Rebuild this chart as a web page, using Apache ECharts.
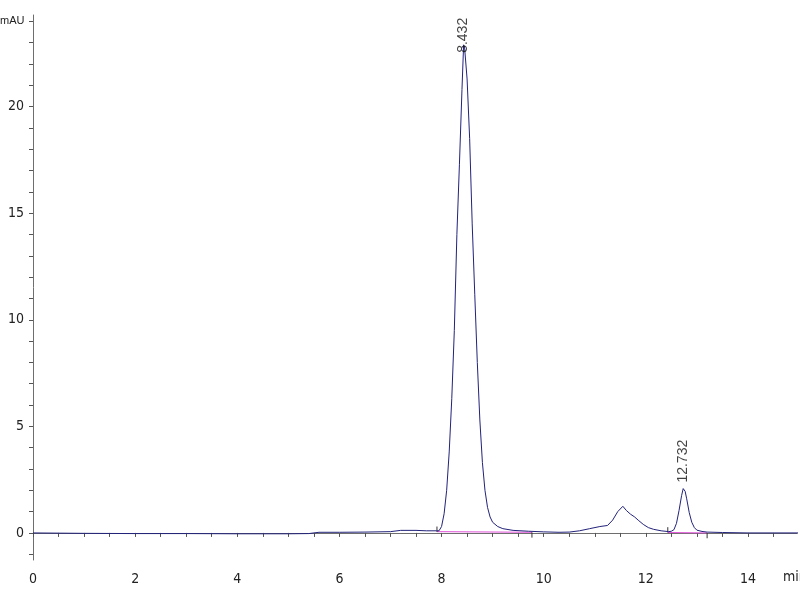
<!DOCTYPE html>
<html>
<head>
<meta charset="utf-8">
<script src="https://cdn.jsdelivr.net/npm/echarts@6/dist/echarts.min.js"></script>
<style>html,body{margin:0;padding:0;background:#fff}#c{width:800px;height:600px}</style>
</head>
<body>
<div id="c"></div>
<script>
// Retention time (min) and signal (mAU)
const times = [0, 1, 2, 3, 4, 5, 5.4, 5.6, 6.0, 6.5, 7.0, 7.2, 7.5, 7.7, 7.9,
  7.95, 8.0, 8.05, 8.1, 8.15, 8.2, 8.25, 8.3, 8.35, 8.4, 8.432, 8.45, 8.5, 8.55, 8.6, 8.65, 8.7, 8.75, 8.8, 8.85, 8.9, 8.95, 9.0, 9.1, 9.2, 9.4, 9.7, 10.0,
  10.3, 10.5, 10.7, 10.9, 11.1, 11.25, 11.35, 11.45, 11.55, 11.62, 11.7, 11.78, 11.85, 11.95, 12.05, 12.15, 12.3, 12.45,
  12.5, 12.55, 12.6, 12.65, 12.7, 12.732, 12.77, 12.8, 12.85, 12.9, 12.95, 13.0, 13.1, 13.2, 13.5, 14.0, 15.0];
const signal = [0.0, -0.02, -0.03, -0.03, -0.04, -0.04, -0.03, 0.03, 0.03, 0.04, 0.06, 0.12, 0.12, 0.1, 0.1,
  0.1, 0.3, 0.9, 2.0, 3.8, 6.3, 9.5, 14.0, 17.3, 20.8, 22.9, 22.8, 21.3, 18.5, 14.5, 11.2, 8.0, 5.3, 3.3, 2.0, 1.2, 0.75, 0.5, 0.3, 0.2, 0.12, 0.08, 0.05,
  0.03, 0.04, 0.1, 0.2, 0.3, 0.35, 0.6, 1.0, 1.25, 1.05, 0.88, 0.75, 0.6, 0.4, 0.25, 0.17, 0.1, 0.06,
  0.08, 0.15, 0.45, 1.05, 1.75, 2.08, 1.95, 1.6, 0.95, 0.5, 0.25, 0.13, 0.07, 0.04, 0.02, 0.0, 0.0];

// Integration baselines (start/end time, start/end signal)
const baseline1 = [[7.91, 0.06], [9.77, 0.03]];
const baseline2 = [[12.43, 0.02], [13.2, 0.0]];
// Peak start/end tick marks
const markTicks = [
  [[7.91, 0.05], [7.91, 0.3]],
  [[9.77, 0.03], [9.77, -0.22]],
  [[12.43, 0.02], [12.43, 0.27]],
  [[13.2, 0.0], [13.2, -0.25]]
];
// Peak labels
const peakTimes = [8.432, 12.732];
const peakHeights = [22.9, 2.08];
const peakLabels = ['8.432', '12.732'];

const yTickValues = [];
for (let v = -1; v <= 24; v++) yTickValues.push(v);
const yLabelValues = [0, 5, 10, 15, 20];
const xTickValues = [];
for (let v = 0; v <= 14.5; v += 0.5) xTickValues.push(v);
const xLabelValues = [0, 2, 4, 6, 8, 10, 12, 14];

const chart = echarts.init(document.getElementById('c'), null, {renderer: 'canvas'});
const axisFont = "'DejaVu Sans Condensed', 'Liberation Sans Narrow', 'Liberation Sans', Arial, sans-serif";
const traceData = times.map((t, i) => [t, signal[i]]);

const series = [
  {
    type: 'line', data: traceData, showSymbol: false, symbol: 'none',
    lineStyle: {color: '#22227a', width: 1}, z: 3, animation: false
  },
  {
    type: 'line', data: baseline1, showSymbol: false, symbol: 'none',
    lineStyle: {color: '#e050d8', width: 1}, z: 2, animation: false
  },
  {
    type: 'line', data: baseline2, showSymbol: false, symbol: 'none',
    lineStyle: {color: '#e050d8', width: 1}, z: 2, animation: false
  }
];
markTicks.forEach(seg => series.push({
  type: 'line', data: seg, showSymbol: false, symbol: 'none',
  lineStyle: {color: '#333', width: 1}, z: 2, animation: false
}));
series.push({
  type: 'scatter', symbolSize: 0, animation: false, z: 5,
  data: peakTimes.map((t, i) => ({
    value: [t, peakHeights[i]],
    label: {distance: i === 0 ? -8 : 6}
  })),
  label: {
    show: true, position: 'top', rotate: 90, align: 'left', verticalAlign: 'middle',
    color: '#111', fontSize: 14, fontFamily: 'Arial, Liberation Sans, sans-serif',
    formatter: p => peakLabels[p.dataIndex]
  }
});

chart.setOption({
  animation: false,
  backgroundColor: '#fff',
  grid: {left: 33, right: 3, top: 15, bottom: 40, containLabel: false, outerBoundsMode: 'none'},
  graphic: [{
    type: 'text', left: 783, top: 570,
    style: {text: 'min', fill: '#222', font: "14px 'DejaVu Sans Condensed', 'Liberation Sans', sans-serif"}
  }, {
    type: 'text', left: 0, top: 15,
    style: {text: 'mAU', fill: '#222', font: "11px 'Liberation Sans', Arial, sans-serif"}
  }],
  xAxis: {
    type: 'value', min: 0, max: 14.96,
    axisLine: {show: true, lineStyle: {color: '#6e6e6e', width: 1}},
    axisTick: {show: true, length: 4, lineStyle: {color: '#555'}, customValues: xTickValues},
    axisLabel: {
      customValues: xLabelValues, margin: 12, color: '#222', fontSize: 14, fontFamily: axisFont,
      showMinLabel: true, showMaxLabel: true
    },
    splitLine: {show: false}
  },
  yAxis: {
    type: 'value', min: -1.27, max: 24.3,
    axisLine: {show: true, lineStyle: {color: '#6e6e6e', width: 1}},
    axisTick: {show: true, length: 4, lineStyle: {color: '#555'}, customValues: yTickValues},
    axisLabel: {customValues: yLabelValues, margin: 9, color: '#222', fontSize: 14, fontFamily: axisFont},
    splitLine: {show: false}
  },
  series: series
});
</script>
</body>
</html>
